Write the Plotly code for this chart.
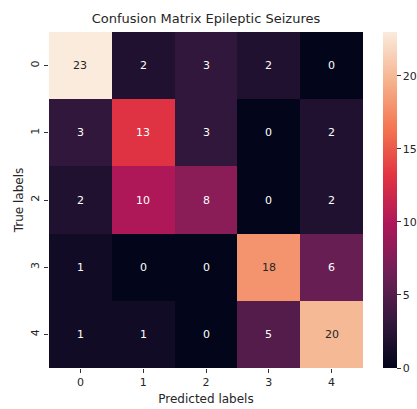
import plotly.graph_objects as go

labels = ["0", "1", "2", "3", "4"]
cm = [
    [23, 2, 3, 2, 0],
    [3, 13, 3, 0, 2],
    [2, 10, 8, 0, 2],
    [1, 0, 0, 18, 6],
    [1, 1, 0, 5, 20],
]

rocket = [
    [0.0, "#03051a"],
    [0.143, "#35193e"],
    [0.286, "#701f57"],
    [0.429, "#ad1759"],
    [0.571, "#e13342"],
    [0.714, "#f37651"],
    [0.857, "#f6b48f"],
    [1.0, "#faebdd"],
]

FONT = "DejaVu Sans"
W, H = 417, 409
L, R, T, B = 49, 54, 32, 41
pw = W - L - R

fig = go.Figure(go.Heatmap(
    z=cm, x=labels, y=labels,
    colorscale=rocket, zmin=0, zmax=23,
    xgap=0, ygap=0,
    colorbar=dict(
        x=(383 - L) / pw, xanchor="left", xpad=0,
        y=0.5, yanchor="middle", len=1, lenmode="fraction", ypad=0,
        thickness=14, outlinewidth=0,
        tickvals=[0, 5, 10, 15, 20], ticks="outside", ticklen=4,
        tickcolor="#333", tickfont=dict(family=FONT, size=11, color="#262626"),
    ),
    hoverinfo="skip",
))

annotations = []
for i, row in enumerate(cm):
    for j, v in enumerate(row):
        annotations.append(dict(
            x=labels[j], y=labels[i], text=str(v), showarrow=False,
            font=dict(family=FONT, size=11, color="#262626" if v >= 15 else "#ffffff"),
        ))

fig.update_layout(
    width=W, height=H,
    margin=dict(l=L, r=R, t=T, b=B, autoexpand=False),
    paper_bgcolor="white", plot_bgcolor="white",
    title=dict(text="Confusion Matrix Epileptic Seizures", x=(L + pw / 2) / W, xanchor="center",
               y=1 - 18 / H, yanchor="middle", yref="container",
               font=dict(family=FONT, size=13, color="#262626")),
    annotations=annotations,
    xaxis=dict(title=dict(text="Predicted labels", font=dict(family=FONT, size=12, color="#262626"), standoff=6),
               automargin=False,
               ticks="outside", ticklen=4, tickcolor="#333",
               tickfont=dict(family=FONT, size=11, color="#262626"), showgrid=False, zeroline=False),
    yaxis=dict(title=dict(text="True labels", font=dict(family=FONT, size=12, color="#262626"), standoff=2),
               automargin=False,
               autorange="reversed", ticks="outside", ticklen=4, tickcolor="#333", tickangle=-90,
               ticklabelstandoff=1,
               tickfont=dict(family=FONT, size=11, color="#262626"), showgrid=False, zeroline=False),
)

fig.write_html("out.html", config={"displayModeBar": False},
               post_script="document.body.style.margin='0px';")
